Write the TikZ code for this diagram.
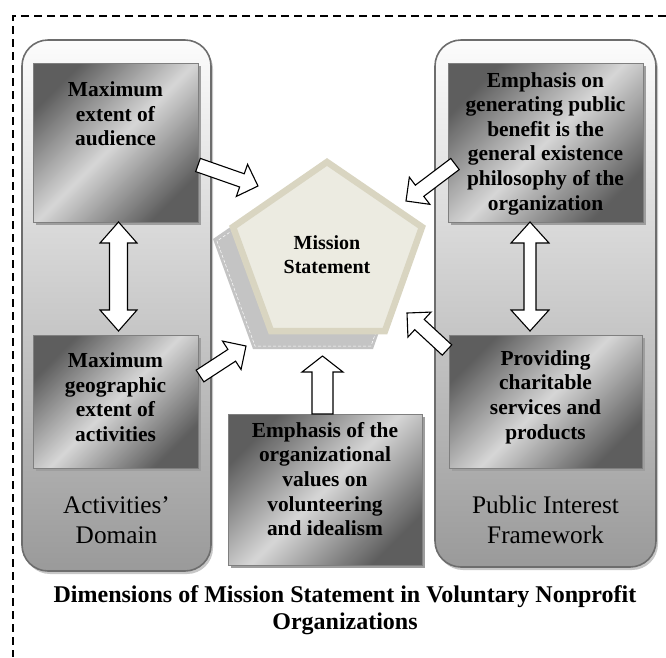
\documentclass[tikz,border=0pt]{standalone}
\usepackage{fontspec}
\setmainfont{Liberation Serif}
\usetikzlibrary{calc,shadows}
\definecolor{boxdark}{HTML}{5E5E5E}
\definecolor{boxlight}{HTML}{D6D6D6}
\definecolor{boxborder}{HTML}{7F7F7F}
\definecolor{paneltop}{HTML}{FCFCFC}
\definecolor{panelmid}{HTML}{E0E0E0}
\definecolor{panelbot}{HTML}{9A9A9A}
\definecolor{paneldraw}{HTML}{6D6D6D}
\definecolor{pentfill}{HTML}{ECEBE1}
\definecolor{pentdraw}{HTML}{D9D5C1}
\definecolor{pentshadow}{HTML}{C4C4C4}
\tikzset{
  panel/.style={draw=paneldraw, line width=1.6pt, rounded corners=26pt,
    top color=paneltop, middle color=panelmid, bottom color=panelbot,
    drop shadow={shadow xshift=2pt, shadow yshift=-3pt, fill=black!22, opacity=1}},
  mbox/.style={draw=boxborder, line width=0.8pt, left color=boxdark, right color=boxdark,
    middle color=boxlight, shading angle=45,
    drop shadow={shadow xshift=3pt, shadow yshift=-3pt, fill=black!38, opacity=1}},
  btext/.style={font=\fontsize{21.4}{24.6}\selectfont\bfseries, align=center, inner sep=0pt},
  ptext/.style={font=\fontsize{25.3}{30}\selectfont, align=center, inner sep=0pt},
  mtext/.style={font=\fontsize{20}{24}\selectfont\bfseries, align=center, inner sep=0pt},
  ttext/.style={font=\fontsize{24}{26.5}\selectfont\bfseries, align=center, inner sep=0pt},
  barrow/.style={draw=black, fill=white, line width=1.1pt, line join=miter},
  frame/.style={draw=black, line width=1.4pt, dash pattern=on 8pt off 5pt}
}
% single block arrow: start, end, shaft half width, head half width, head length
\newcommand{\blockarr}[5]{%
  \path[barrow] let \p1=($(#2)-(#1)$), \n1={atan2(\y1,\x1)}, \n2={veclen(\x1,\y1)} in
    [shift={(#1)}, rotate=\n1]
    (0,-#3) -- ({\n2-#5},-#3) -- ({\n2-#5},-#4) -- (\n2,0) -- ({\n2-#5},#4) -- ({\n2-#5},#3) -- (0,#3) -- cycle;}
% double block arrow
\newcommand{\dblockarr}[5]{%
  \path[barrow] let \p1=($(#2)-(#1)$), \n1={atan2(\y1,\x1)}, \n2={veclen(\x1,\y1)} in
    [shift={(#1)}, rotate=\n1]
    (#5,-#3) -- ({\n2-#5},-#3) -- ({\n2-#5},-#4) -- (\n2,0) -- ({\n2-#5},#4) -- ({\n2-#5},#3)
    -- (#5,#3) -- (#5,#4) -- (0,0) -- (#5,-#4) -- cycle;}
\begin{document}
\begin{tikzpicture}[x=1pt,y=-1pt]
\useasboundingbox (0,0) rectangle (666,657);
% outer dashed frame
\draw[frame] (666,16) -- (13,16) -- (13,657);
% panels
\node[panel, minimum width=189pt, minimum height=531pt, inner sep=0pt] (lp) at (116.5,305.5) {};
\node[panel, minimum width=221pt, minimum height=527pt, inner sep=0pt] (rp) at (545.5,303.5) {};
\node[ptext] (lpt) at (116.5,520) {Activities’\\Domain};
\node[ptext] (rpt) at (545.5,520) {Public Interest\\Framework};
% boxes
\node[mbox, minimum width=165pt, minimum height=159pt, inner sep=0pt] (b1) at (115.5,142.5) {};
\node[mbox, minimum width=165pt, minimum height=133pt, inner sep=0pt] (b2) at (115.5,401.5) {};
\node[mbox, minimum width=195pt, minimum height=159pt, inner sep=0pt] (b3) at (545.5,142.5) {};
\node[mbox, minimum width=193pt, minimum height=133pt, inner sep=0pt] (b4) at (545.5,401.5) {};
\node[mbox, minimum width=194pt, minimum height=151pt, inner sep=0pt] (b5) at (325,489.5) {};
\node[btext] (t1) at (115.5,114) {Maximum\\extent of\\audience};
\node[btext] (t2) at (115.5,397) {Maximum\\geographic\\extent of\\activities};
\node[btext] (t3) at (545.5,143.5) {Emphasis on\\generating public\\benefit is the\\general existence\\philosophy of the\\organization};
\node[btext] (t4) at (545.5,397) {Providing\\charitable\\services and\\products};
\node[btext] (t5) at (325,479) {Emphasis of the\\organizational\\values on\\volunteering\\and idealism};
% pentagon shadow
\fill[pentshadow] (312,171) -- (213,239) -- (253,349) -- (373,349) -- (412,239) -- cycle;
\draw[white, densely dashed, line width=0.5pt] (312,176) -- (217,241) -- (255,346) -- (371,346) -- (408,241) -- cycle;
% pentagon
\draw[fill=pentfill, draw=pentdraw, line width=6.5pt, line join=miter]
  (327,162) -- (233,227) -- (271,331) -- (385,331) -- (422,227) -- cycle;
\node[mtext] (ms) at (327,255) {Mission\\Statement};
% arrow end points
\coordinate (a1s) at (198,165);
\coordinate (a1e) at (258,186);
\coordinate (a2s) at (455,164);
\coordinate (a2e) at (406,201);
\coordinate (a3s) at (200,376);
\coordinate (a3e) at (246,346);
\coordinate (a4s) at (447,350);
\coordinate (a4e) at (407,313);
\coordinate (a5s) at (322.5,414);
\coordinate (a5e) at (322.5,356);
\coordinate (d1s) at (118.5,222);
\coordinate (d1e) at (118.5,331);
\coordinate (d2s) at (530,222);
\coordinate (d2e) at (530,331);
\blockarr{a1s}{a1e}{7}{17}{17}
\blockarr{a2s}{a2e}{7}{17}{17}
\blockarr{a3s}{a3e}{7}{17}{17}
\blockarr{a4s}{a4e}{7}{17}{17}
\blockarr{a5s}{a5e}{10.5}{20.5}{16}
\dblockarr{d1s}{d1e}{9}{18.5}{21}
\dblockarr{d2s}{d2e}{6}{19}{21}
% title
\node[ttext] (title) at (345,610) {Dimensions of Mission Statement in Voluntary Nonprofit\\Organizations};
\end{tikzpicture}
\end{document}
